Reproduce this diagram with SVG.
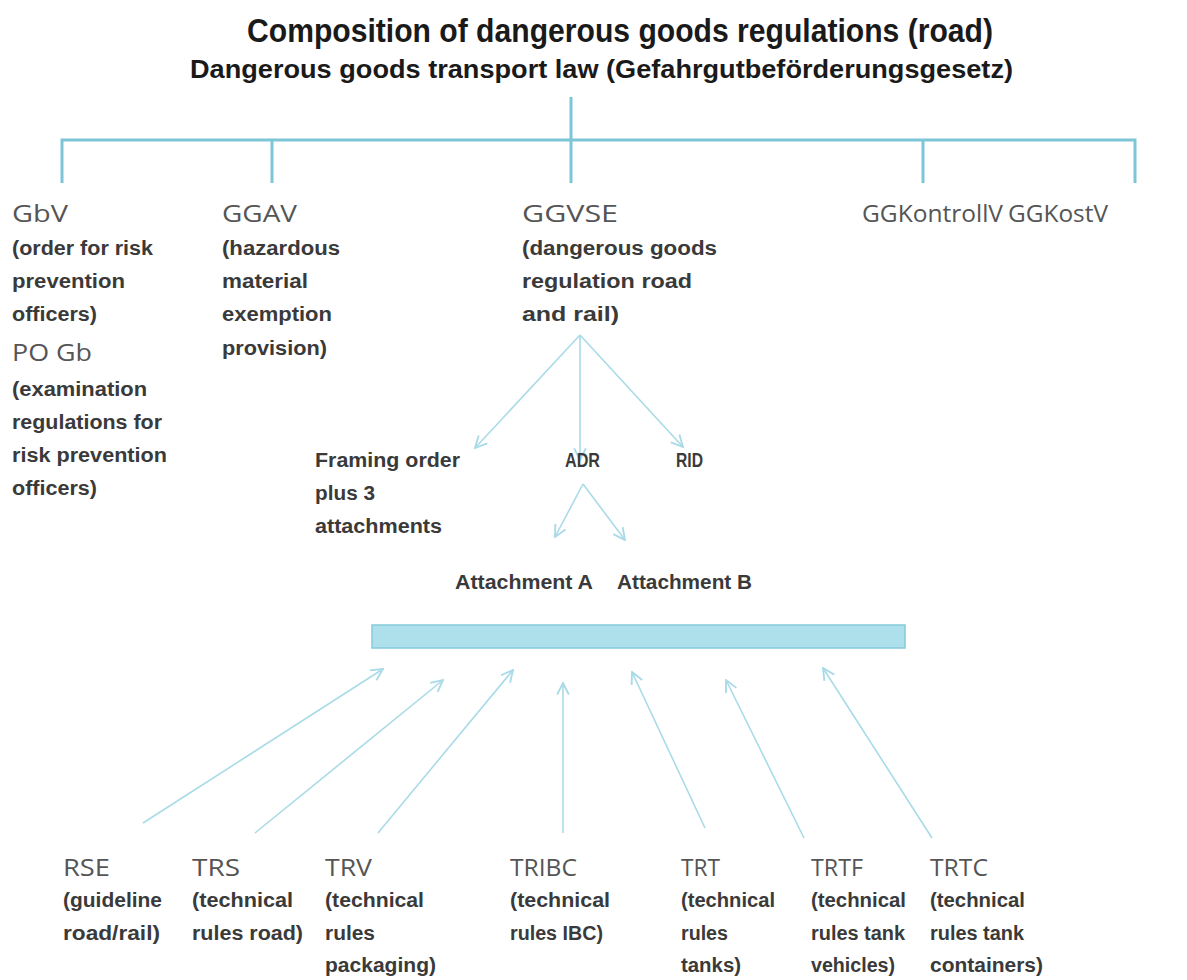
<svg xmlns="http://www.w3.org/2000/svg" width="1187" height="980" viewBox="0 0 1187 980">
<style>
.t1{font-family:"Liberation Sans",Arial,sans-serif;font-weight:bold;fill:#1a1a1a}
.nm{font-family:"Open Sans","Liberation Sans",sans-serif;font-size:24px;fill:#555}
.ds{font-family:"Liberation Sans",Arial,sans-serif;font-size:20px;font-weight:bold;fill:#3a3a3a}
.tree{stroke:#7cc6d8;stroke-width:3;fill:none}
.arr{stroke:#a9dbe7;stroke-width:1.6;fill:none;marker-end:url(#ah)}
</style>
<defs>
<marker id="ah" viewBox="0 0 12 12" refX="11" refY="6" markerWidth="14" markerHeight="14" markerUnits="userSpaceOnUse" orient="auto">
<path d="M1,1 L11,6 L1,11" fill="none" stroke="#a9dbe7" stroke-width="1.6"/>
</marker>
</defs>
<rect width="1187" height="980" fill="#fff"/>
<g id="title">
<text class="t1" x="247" y="42" font-size="33" textLength="746" lengthAdjust="spacingAndGlyphs">Composition of dangerous goods regulations (road)</text>
<text class="t1" x="190" y="78" font-size="26" textLength="823" lengthAdjust="spacingAndGlyphs">Dangerous goods transport law (Gefahrgutbeförderungsgesetz)</text>
</g>
<g id="connectors">
<path class="tree" d="M571,97 V140 M62,183 V140 H1135 V183 M272,140 V183 M571,140 V183 M923,140 V183"/>
<line class="arr" x1="580" y1="335" x2="475" y2="448"/>
<line class="arr" x1="580" y1="335" x2="580" y2="460"/>
<line class="arr" x1="580" y1="335" x2="683" y2="447"/>
<line class="arr" x1="583" y1="484" x2="555" y2="537"/>
<line class="arr" x1="583" y1="484" x2="625" y2="540"/>
<line class="arr" x1="143" y1="823" x2="383" y2="669"/>
<line class="arr" x1="255" y1="833" x2="443" y2="680"/>
<line class="arr" x1="378" y1="833" x2="513" y2="670"/>
<line class="arr" x1="563" y1="833" x2="563" y2="683"/>
<line class="arr" x1="705" y1="828" x2="632" y2="672"/>
<line class="arr" x1="804" y1="838" x2="726" y2="680"/>
<line class="arr" x1="932" y1="838" x2="823" y2="668"/>
</g>
<g id="GbV">
<text class="nm" x="12" y="222" textLength="56" lengthAdjust="spacingAndGlyphs">GbV</text>
<text class="ds" x="12" y="255" textLength="141" lengthAdjust="spacingAndGlyphs">(order for risk</text>
<text class="ds" x="12" y="288" textLength="113" lengthAdjust="spacingAndGlyphs">prevention</text>
<text class="ds" x="12" y="321" textLength="85" lengthAdjust="spacingAndGlyphs">officers)</text>
<text class="nm" x="12" y="361" textLength="80" lengthAdjust="spacingAndGlyphs">PO Gb</text>
<text class="ds" x="12" y="396" textLength="135" lengthAdjust="spacingAndGlyphs">(examination</text>
<text class="ds" x="12" y="429" textLength="150" lengthAdjust="spacingAndGlyphs">regulations for</text>
<text class="ds" x="12" y="462" textLength="155" lengthAdjust="spacingAndGlyphs">risk prevention</text>
<text class="ds" x="12" y="495" textLength="85" lengthAdjust="spacingAndGlyphs">officers)</text>
</g>
<g id="GGAV">
<text class="nm" x="222" y="222" textLength="75" lengthAdjust="spacingAndGlyphs">GGAV</text>
<text class="ds" x="222" y="255" textLength="118" lengthAdjust="spacingAndGlyphs">(hazardous</text>
<text class="ds" x="222" y="288" textLength="86" lengthAdjust="spacingAndGlyphs">material</text>
<text class="ds" x="222" y="321" textLength="110" lengthAdjust="spacingAndGlyphs">exemption</text>
<text class="ds" x="222" y="355" textLength="105" lengthAdjust="spacingAndGlyphs">provision)</text>
</g>
<g id="GGVSE">
<text class="nm" x="522" y="222" textLength="96" lengthAdjust="spacingAndGlyphs">GGVSE</text>
<text class="ds" x="522" y="255" textLength="195" lengthAdjust="spacingAndGlyphs">(dangerous goods</text>
<text class="ds" x="522" y="288" textLength="170" lengthAdjust="spacingAndGlyphs">regulation road</text>
<text class="ds" x="522" y="321" textLength="97" lengthAdjust="spacingAndGlyphs">and rail)</text>
</g>
<g id="GGKontrollV">
<text class="nm" x="862" y="222" textLength="141" lengthAdjust="spacingAndGlyphs">GGKontrollV</text>
</g>
<g id="GGKostV">
<text class="nm" x="1008" y="222" textLength="100" lengthAdjust="spacingAndGlyphs">GGKostV</text>
</g>
<g id="framing">
<text class="ds" x="315" y="467" textLength="145" lengthAdjust="spacingAndGlyphs">Framing order</text>
<text class="ds" x="315" y="500" textLength="60" lengthAdjust="spacingAndGlyphs">plus 3</text>
<text class="ds" x="315" y="533" textLength="127" lengthAdjust="spacingAndGlyphs">attachments</text>
</g>
<g id="ADR"><text class="ds" x="565" y="467" textLength="35" lengthAdjust="spacingAndGlyphs">ADR</text></g>
<g id="RID"><text class="ds" x="676" y="467" textLength="27" lengthAdjust="spacingAndGlyphs">RID</text></g>
<g id="attA"><text class="ds" x="455" y="589" textLength="138" lengthAdjust="spacingAndGlyphs">Attachment A</text></g>
<g id="attB"><text class="ds" x="617" y="589" textLength="135" lengthAdjust="spacingAndGlyphs">Attachment B</text></g>
<g id="bar"><rect x="372" y="625" width="533" height="23" fill="#ade0ea" stroke="#86cadb" stroke-width="1.5"/></g>
<g id="RSE">
<text class="nm" x="63" y="876" textLength="47" lengthAdjust="spacingAndGlyphs">RSE</text>
<text class="ds" x="63" y="907" textLength="99" lengthAdjust="spacingAndGlyphs">(guideline</text>
<text class="ds" x="63" y="940" textLength="97" lengthAdjust="spacingAndGlyphs">road/rail)</text>
</g>
<g id="TRS">
<text class="nm" x="192" y="876" textLength="48" lengthAdjust="spacingAndGlyphs">TRS</text>
<text class="ds" x="192" y="907" textLength="101" lengthAdjust="spacingAndGlyphs">(technical</text>
<text class="ds" x="192" y="940" textLength="111" lengthAdjust="spacingAndGlyphs">rules road)</text>
</g>
<g id="TRV">
<text class="nm" x="325" y="876" textLength="47" lengthAdjust="spacingAndGlyphs">TRV</text>
<text class="ds" x="325" y="907" textLength="99" lengthAdjust="spacingAndGlyphs">(technical</text>
<text class="ds" x="325" y="940" textLength="50" lengthAdjust="spacingAndGlyphs">rules</text>
<text class="ds" x="325" y="972" textLength="111" lengthAdjust="spacingAndGlyphs">packaging)</text>
</g>
<g id="TRIBC">
<text class="nm" x="510" y="876" textLength="67" lengthAdjust="spacingAndGlyphs">TRIBC</text>
<text class="ds" x="510" y="907" textLength="100" lengthAdjust="spacingAndGlyphs">(technical</text>
<text class="ds" x="510" y="940" textLength="93" lengthAdjust="spacingAndGlyphs">rules IBC)</text>
</g>
<g id="TRT">
<text class="nm" x="681" y="876" textLength="39" lengthAdjust="spacingAndGlyphs">TRT</text>
<text class="ds" x="681" y="907" textLength="94" lengthAdjust="spacingAndGlyphs">(technical</text>
<text class="ds" x="681" y="940" textLength="47" lengthAdjust="spacingAndGlyphs">rules</text>
<text class="ds" x="681" y="972" textLength="60" lengthAdjust="spacingAndGlyphs">tanks)</text>
</g>
<g id="TRTF">
<text class="nm" x="811" y="876" textLength="52" lengthAdjust="spacingAndGlyphs">TRTF</text>
<text class="ds" x="811" y="907" textLength="95" lengthAdjust="spacingAndGlyphs">(technical</text>
<text class="ds" x="811" y="940" textLength="94" lengthAdjust="spacingAndGlyphs">rules tank</text>
<text class="ds" x="811" y="972" textLength="84" lengthAdjust="spacingAndGlyphs">vehicles)</text>
</g>
<g id="TRTC">
<text class="nm" x="930" y="876" textLength="58" lengthAdjust="spacingAndGlyphs">TRTC</text>
<text class="ds" x="930" y="907" textLength="95" lengthAdjust="spacingAndGlyphs">(technical</text>
<text class="ds" x="930" y="940" textLength="94" lengthAdjust="spacingAndGlyphs">rules tank</text>
<text class="ds" x="930" y="972" textLength="113" lengthAdjust="spacingAndGlyphs">containers)</text>
</g>
</svg>
